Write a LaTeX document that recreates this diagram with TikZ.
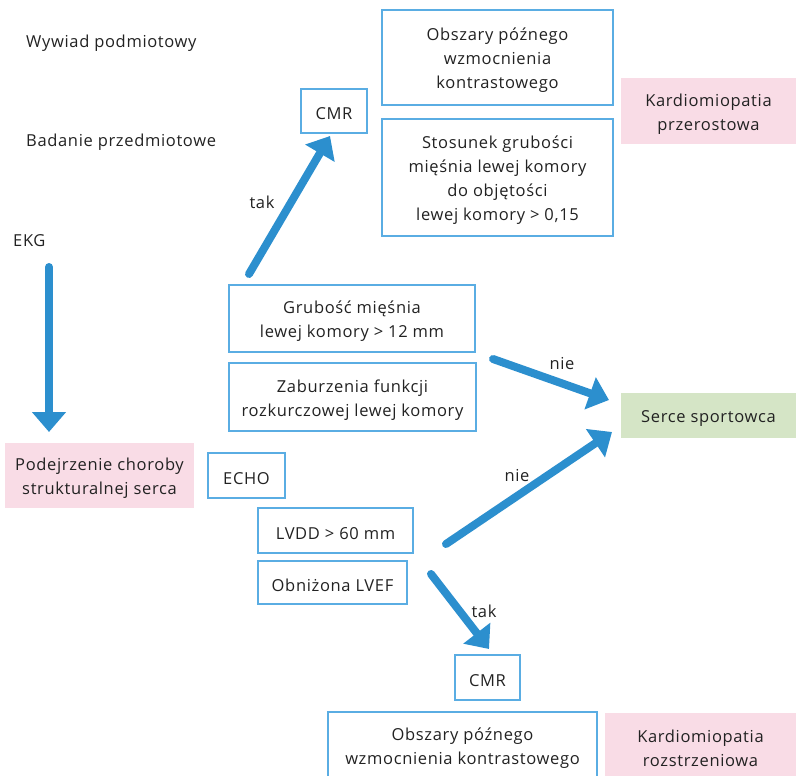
\documentclass[tikz,border=0pt]{standalone}
\usepackage{fontspec}
\setmainfont[LetterSpace=4]{Open Sans}
\usetikzlibrary{arrows.meta}
\definecolor{boxblue}{HTML}{5AADE3}
\definecolor{arrowblue}{HTML}{2C8FCE}
\definecolor{pinkfill}{HTML}{F9DCE6}
\definecolor{greenfill}{HTML}{D5E5C6}
\definecolor{txt}{HTML}{222222}
\tikzset{
  every node/.style={text=txt, font=\fontsize{16.5}{24}\selectfont},
  boxtext/.style={align=center, inner sep=0pt, yshift=-3pt},
  bluebox/.style={draw=boxblue, line width=2.4pt, fill=white, inner sep=0pt},
  pinkbox/.style={fill=pinkfill, inner sep=0pt},
  greenbox/.style={fill=greenfill, inner sep=0pt},
  plain/.style={anchor=west, inner sep=0pt},
  flow/.style={draw=arrowblue, line width=8pt, line cap=round,
    -{Triangle[length=20pt,width=33pt]}},
}
\begin{document}
\begin{tikzpicture}[x=1pt,y=-1pt]
\useasboundingbox (0,0) rectangle (796,776);

% left column labels
\node[plain] (wywiad) at (26,43) {Wywiad podmiotowy};
\node[plain] (badanie) at (26,142) {Badanie przedmiotowe};
\node[plain] (ekg) at (13,241) {EKG};

% hypertrophic branch
\node[bluebox, minimum width=66pt, minimum height=44pt,
  label={[boxtext]center:{CMR}}] (cmr1) at (334,111) {};
\node[bluebox, minimum width=231pt, minimum height=95pt,
  label={[boxtext]center:{Obszary późnego\\wzmocnienia\\kontrastowego}}] (lge1) at (497.5,57.5) {};
\node[bluebox, minimum width=231pt, minimum height=117pt,
  label={[boxtext]center:{Stosunek grubości\\mięśnia lewej komory\\do objętości\\ lewej komory > 0,15}}] (ratio) at (497.5,177.5) {};
\node[pinkbox, minimum width=175pt, minimum height=66pt,
  label={[boxtext]center:{Kardiomiopatia\\przerostowa}}] (hcm) at (708.5,111) {};

\node[bluebox, minimum width=246pt, minimum height=67pt,
  label={[boxtext]center:{Grubość mięśnia\\lewej komory > 12 mm}}] (wall) at (352,318.5) {};
\node[bluebox, minimum width=247pt, minimum height=68pt,
  label={[boxtext]center:{Zaburzenia funkcji\\rozkurczowej lewej komory}}] (diast) at (352.5,397) {};

\node[greenbox, minimum width=175pt, minimum height=45pt,
  label={[boxtext]center:{Serce sportowca}}] (athlete) at (708.5,415.5) {};

% suspicion and echo
\node[pinkbox, minimum width=189pt, minimum height=65pt,
  label={[boxtext]center:{Podejrzenie choroby\\strukturalnej serca}}] (susp) at (99.5,475.5) {};
\node[bluebox, minimum width=77pt, minimum height=45pt,
  label={[boxtext]center:{ECHO}}] (echo) at (246.5,475.5) {};
\node[bluebox, minimum width=155pt, minimum height=45pt,
  label={[boxtext]center:{LVDD > 60 mm}}] (lvdd) at (335.5,530.5) {};
\node[bluebox, minimum width=149pt, minimum height=43pt,
  label={[boxtext]center:{Obniżona LVEF}}] (lvef) at (332.5,582.5) {};

% dilated branch
\node[bluebox, minimum width=65pt, minimum height=45pt,
  label={[boxtext]center:{CMR}}] (cmr2) at (487.5,677.5) {};
\node[bluebox, minimum width=269pt, minimum height=67pt,
  label={[boxtext]center:{Obszary późnego\\wzmocnienia kontrastowego}}] (lge2) at (462.5,745.5) {};
\node[pinkbox, minimum width=191pt, minimum height=65pt,
  label={[boxtext]center:{Kardiomiopatia\\rozstrzeniowa}}] (dcm) at (700.5,745.5) {};

% arrow end points
\coordinate (ekgtail) at (49,267);
\coordinate (ekghead) at (49,432);
\coordinate (taktail) at (249,274);
\coordinate (takhead) at (330,136);
\coordinate (nie1tail) at (493,359);
\coordinate (nie1head) at (609,400);
\coordinate (nie2tail) at (446,544);
\coordinate (nie2head) at (612,432);
\coordinate (tak2tail) at (431,574);
\coordinate (tak2head) at (489,649);

\draw[flow] (ekgtail) -- (ekghead);
\draw[flow] (taktail) -- (takhead);
\draw[flow] (nie1tail) -- (nie1head);
\draw[flow] (nie2tail) -- (nie2head);
\draw[flow] (tak2tail) -- (tak2head);

% branch labels
\node (ltak1) at (262,202) {tak};
\node (lnie1) at (562,364) {nie};
\node (lnie2) at (517,476) {nie};
\node (ltak2) at (484,611) {tak};
\end{tikzpicture}
\end{document}
